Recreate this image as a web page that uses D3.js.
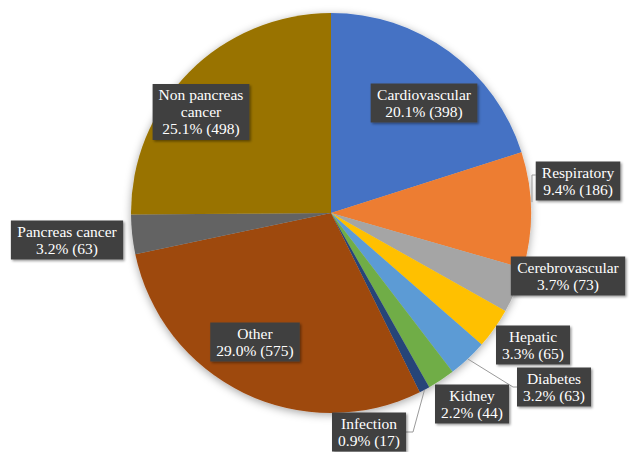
<!DOCTYPE html>
<html>
<head>
<meta charset="utf-8">
<script src="https://cdn.jsdelivr.net/npm/d3@7"></script>
<style>
  body { margin: 0; background: #fff; }
</style>
</head>
<body>
<div id="pie-chart"></div>
<script>
const categories = ['Cardiovascular', 'Respiratory', 'Cerebrovascular', 'Hepatic', 'Diabetes',
  'Kidney', 'Infection', 'Other', 'Pancreas cancer', 'Non pancreas cancer']
const counts = [398, 186, 73, 65, 63, 44, 17, 575, 63, 498]
const colors = ['#4472C4', '#ED7D31', '#A5A5A5', '#FFC000', '#5B9BD5',
  '#70AD47', '#264478', '#9E480E', '#636363', '#997300']

// label box centre, relative to pie centre; leader = draw a line to the slice
const labelLayout = [
  { dx: 93, dy: -110 },
  { dx: 247, dy: -32, leader: 'left' },
  { dx: 237, dy: 63 },
  { dx: 202, dy: 132 },
  { dx: 223, dy: 174, leader: 'left' },
  { dx: 141, dy: 191 },
  { dx: 38, dy: 219, leader: 'right' },
  { dx: -76, dy: 129 },
  { dx: -264, dy: 27 },
  { dx: -130, dy: -101, wrap: ['Non pancreas', 'cancer'] }
]

const width = 629
const height = 452
const cx = 331
const cy = 213
const radius = 200

const svg = d3
  .select('#pie-chart')
  .append('svg')
  .attr('width', width)
  .attr('height', height)

const defs = svg.append('defs')
defs.append('filter')
  .attr('id', 'pie-shadow')
  .attr('x', '-20%').attr('y', '-20%').attr('width', '140%').attr('height', '140%')
  .append('feDropShadow')
  .attr('dx', 0).attr('dy', 2).attr('stdDeviation', 4)
  .attr('flood-color', '#000').attr('flood-opacity', 0.35)
defs.append('filter')
  .attr('id', 'box-shadow')
  .attr('x', '-20%').attr('y', '-20%').attr('width', '150%').attr('height', '150%')
  .append('feDropShadow')
  .attr('dx', 1.5).attr('dy', 1.5).attr('stdDeviation', 1.2)
  .attr('flood-color', '#000').attr('flood-opacity', 0.4)

const total = d3.sum(counts)

const pie = d3.pie().sort(null).value(d => d)
const arcs = pie(counts)

const arc = d3.arc().innerRadius(0).outerRadius(radius)

const g = svg.append('g').attr('transform', 'translate(' + cx + ',' + cy + ')')

g.append('g')
  .attr('filter', 'url(#pie-shadow)')
  .selectAll('path')
  .data(arcs)
  .enter()
  .append('path')
  .attr('d', arc)
  .attr('fill', (d, i) => colors[i])

// leader lines
const edge = d3.arc().innerRadius(radius).outerRadius(radius)
const leaders = g.append('g')

const labels = g.append('g')

arcs.forEach(function(d, i) {
  const lay = labelLayout[i]
  const lines = (lay.wrap || [categories[i]]).concat(
    [(counts[i] / total * 100).toFixed(1) + '% (' + counts[i] + ')'])

  const lab = labels.append('g')
    .attr('transform', 'translate(' + lay.dx + ',' + lay.dy + ')')

  const rect = lab.append('rect')
    .attr('fill', '#404040')
    .attr('filter', 'url(#box-shadow)')

  const lineHeight = 17
  const text = lab.append('text')
    .attr('text-anchor', 'middle')
    .attr('fill', '#fff')
    .style('font-family', 'Liberation Serif')
    .style('font-size', '15.5px')

  lines.forEach(function(l, j) {
    text.append('tspan')
      .attr('x', 0)
      .attr('y', (j - (lines.length - 1) / 2) * lineHeight + 5)
      .text(l)
  })

  const bb = text.node().getBBox()
  const w = bb.width + 12
  const h = lines.length * lineHeight + 5
  rect.attr('x', -w / 2).attr('y', -h / 2).attr('width', w).attr('height', h)

  if (lay.leader) {
    const p = edge.centroid(d)
    const bx = lay.leader === 'left' ? lay.dx - w / 2 : lay.dx + w / 2
    const by = lay.leader === 'left' && i === 1 ? lay.dy - 6 : lay.dy
    let pts
    if (i === 1) {
      pts = [[bx, by], [p[0] + 1, by], [p[0] + 1, p[1] - 8]]
    } else if (lay.leader === 'left') {
      pts = [[p[0], p[1]], [bx - 4, by], [bx, by]]
    } else {
      pts = [[p[0], p[1]], [bx + 7, by], [bx, by]]
    }
    leaders.append('path')
      .attr('d', d3.line()(pts))
      .attr('fill', 'none')
      .attr('stroke', '#9a9a9a')
      .attr('stroke-width', 1)
  }
})
</script>
</body>
</html>
